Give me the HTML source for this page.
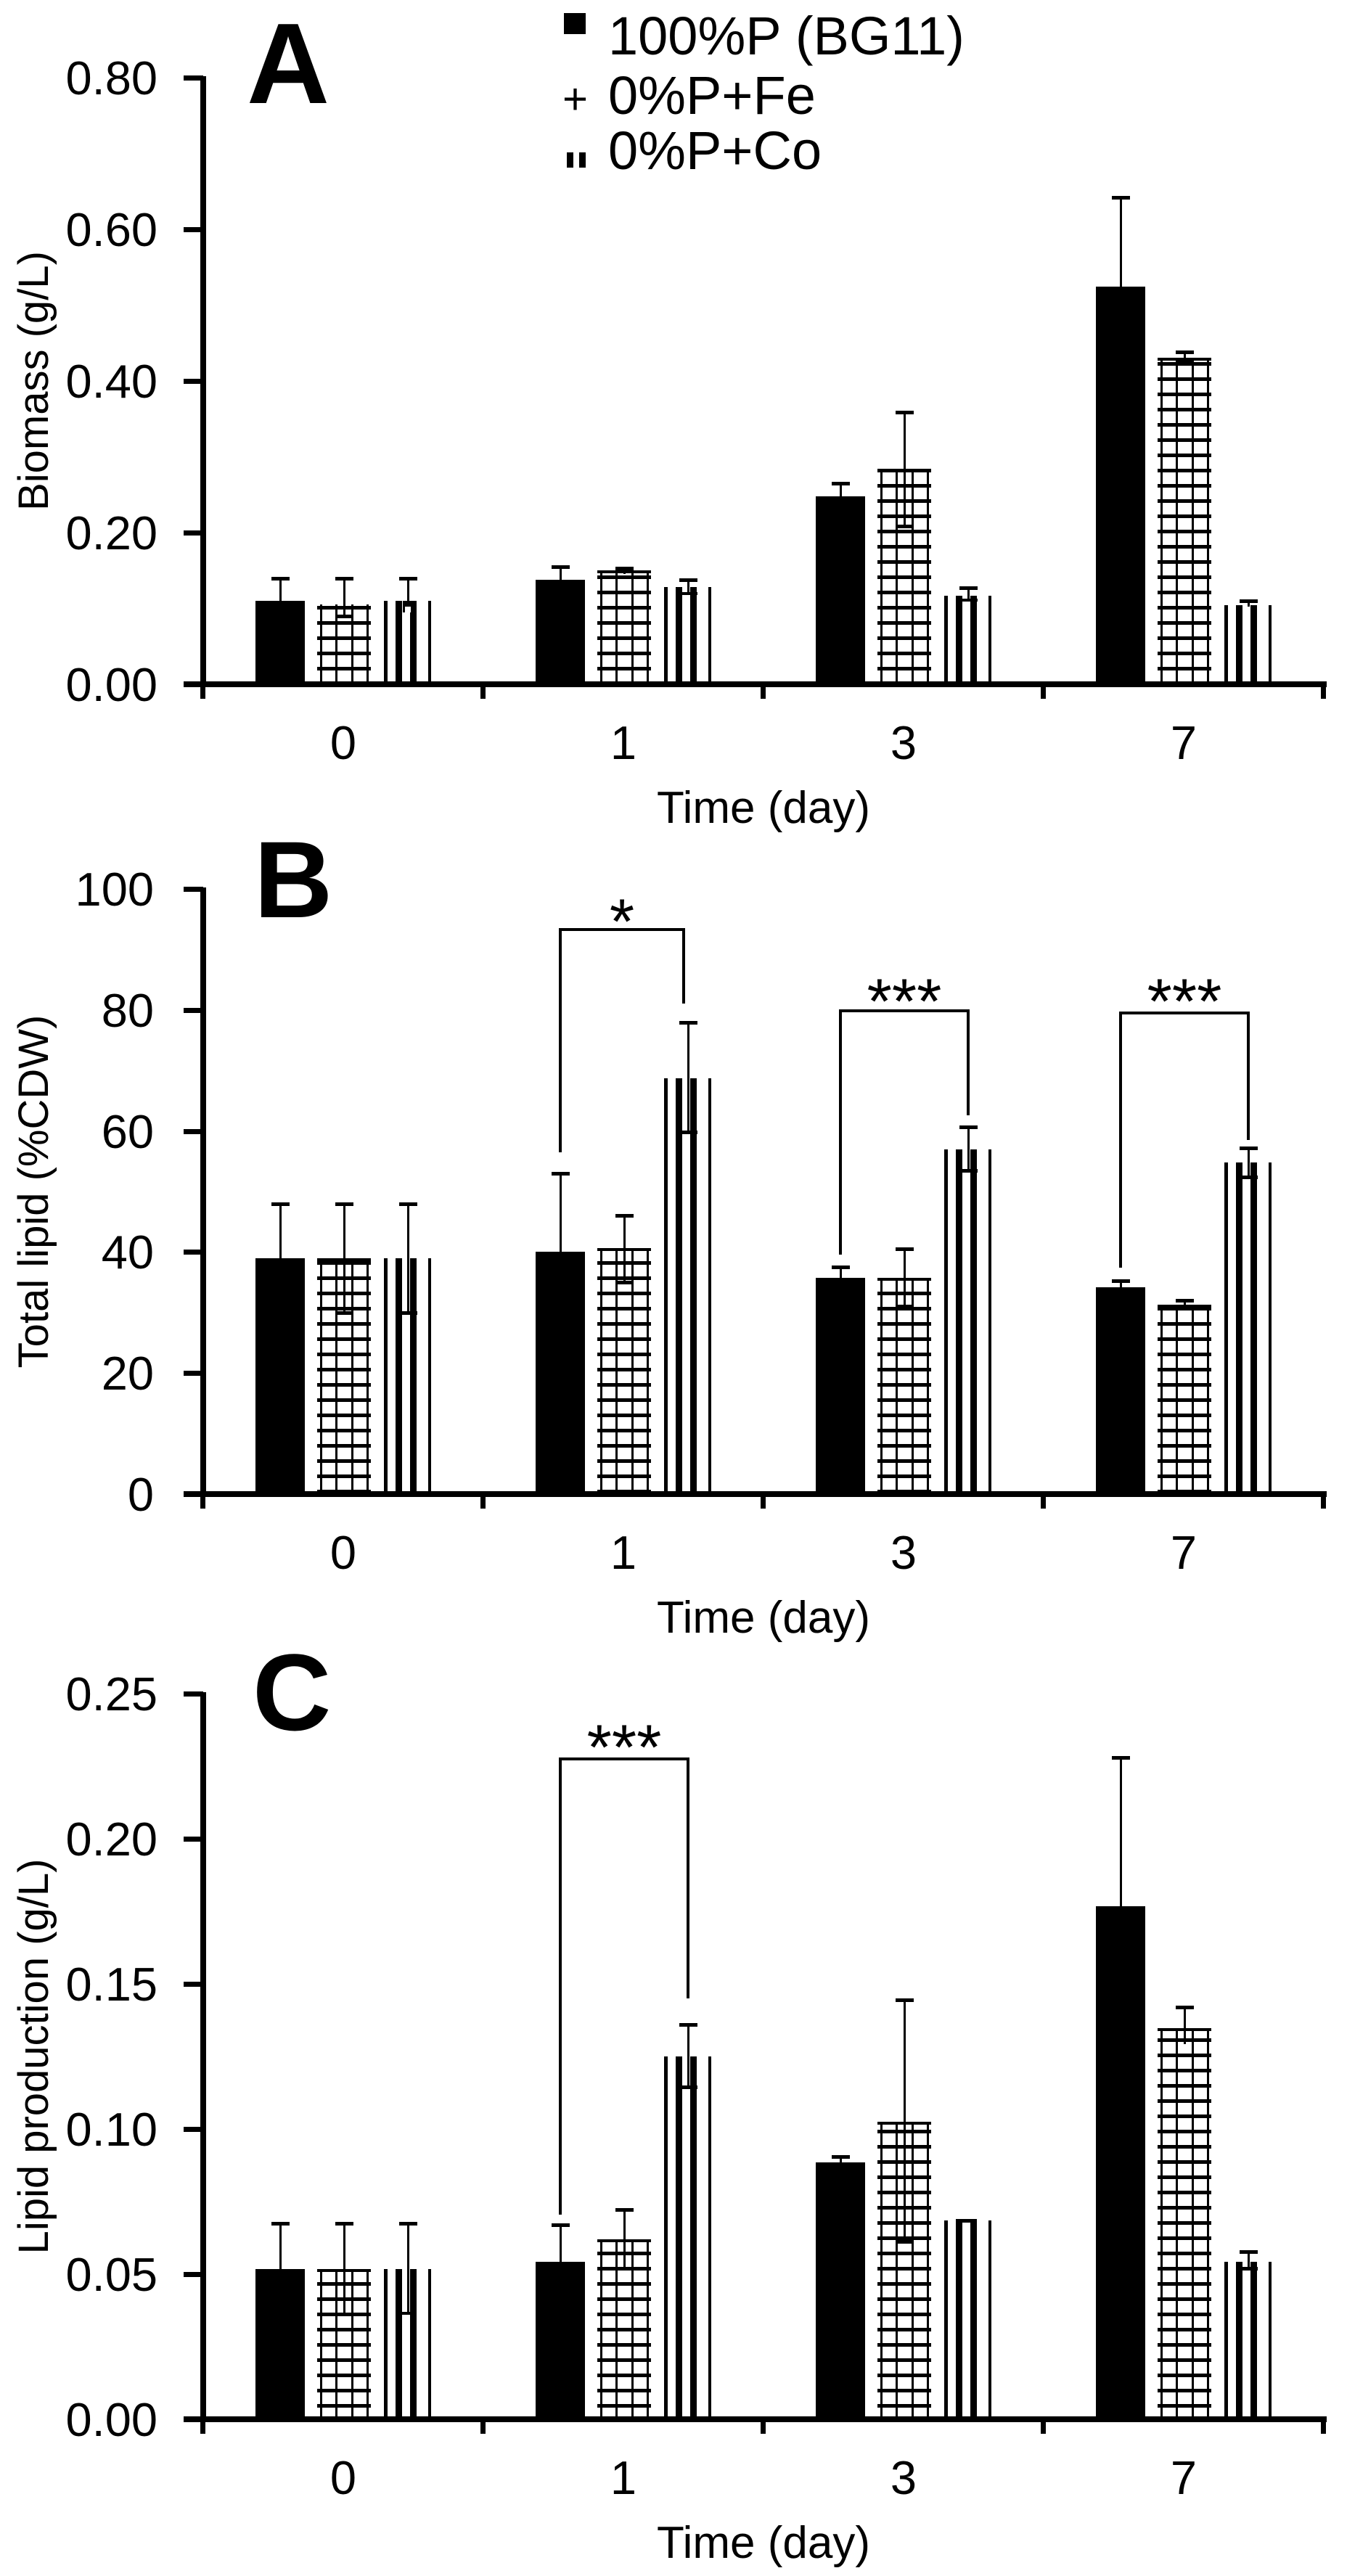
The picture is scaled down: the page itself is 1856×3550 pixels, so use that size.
<!DOCTYPE html>
<html><head><meta charset="utf-8"><style>
html,body{margin:0;padding:0;background:#fff;}
svg{display:block;}
text{font-family:"Liberation Sans",Arial,sans-serif;fill:#000;}
</style></head><body>
<svg width="1856" height="3550" viewBox="0 0 1856 3550" xmlns="http://www.w3.org/2000/svg">
<defs>
<pattern id="hp" patternUnits="userSpaceOnUse" x="0" y="0" width="4000" height="21"><rect x="0" y="16" width="4000" height="5" fill="#000"/></pattern>
</defs>
<rect width="1856" height="3550" fill="#fff"/>

<!-- ================= PANEL A ================= -->
<text x="340" y="142" font-size="158" font-weight="bold">A</text>
<rect x="777" y="18" width="30" height="29" fill="#000"/>
<text x="838" y="75" font-size="74">100%P (BG11)</text>
<text x="775" y="157" font-size="60">+</text>
<text x="838" y="157" font-size="74">0%P+Fe</text>
<rect x="781" y="210" width="9" height="21" fill="#000"/><rect x="798" y="210" width="9" height="21" fill="#000"/>
<text x="838" y="233" font-size="74">0%P+Co</text>

<!-- bars A -->
<g id="barsA">
<rect x="352" y="828" width="68" height="115" fill="#000"/>
<rect x="437" y="833" width="74" height="110" fill="url(#hp)"/>
<rect x="441" y="833" width="3" height="110"/><rect x="462" y="833" width="3" height="110"/><rect x="484" y="833" width="3" height="110"/><rect x="505" y="833" width="3" height="110"/>
<rect x="529" y="828" width="5" height="115"/><rect x="545" y="828" width="9" height="115"/><rect x="565" y="828" width="9" height="115"/><rect x="590" y="828" width="4" height="115"/>

<rect x="738" y="799" width="68" height="144"/>
<rect x="823" y="786" width="74" height="157" fill="url(#hp)"/><rect x="823" y="786" width="74" height="4"/>
<rect x="827" y="786" width="3" height="157"/><rect x="848" y="786" width="3" height="157"/><rect x="870" y="786" width="3" height="157"/><rect x="891" y="786" width="3" height="157"/>
<rect x="915" y="809" width="5" height="134"/><rect x="931" y="809" width="9" height="134"/><rect x="951" y="809" width="9" height="134"/><rect x="976" y="809" width="4" height="134"/>

<rect x="1124" y="684" width="68" height="259"/>
<rect x="1209" y="646" width="74" height="297" fill="url(#hp)"/><rect x="1209" y="646" width="74" height="4"/>
<rect x="1213" y="646" width="3" height="297"/><rect x="1234" y="646" width="3" height="297"/><rect x="1256" y="646" width="3" height="297"/><rect x="1277" y="646" width="3" height="297"/>
<rect x="1301" y="821" width="5" height="122"/><rect x="1317" y="821" width="9" height="122"/><rect x="1337" y="821" width="9" height="122"/><rect x="1362" y="821" width="4" height="122"/>

<rect x="1510" y="395" width="68" height="548"/>
<rect x="1595" y="493" width="74" height="450" fill="url(#hp)"/><rect x="1595" y="493" width="74" height="4"/>
<rect x="1599" y="493" width="3" height="450"/><rect x="1620" y="493" width="3" height="450"/><rect x="1642" y="493" width="3" height="450"/><rect x="1663" y="493" width="3" height="450"/>
<rect x="1687" y="834" width="5" height="109"/><rect x="1703" y="834" width="9" height="109"/><rect x="1723" y="834" width="9" height="109"/><rect x="1748" y="834" width="4" height="109"/>
</g>
<!-- error bars A -->
<g fill="#000">
<rect x="385" y="797" width="3" height="31"/><rect x="374" y="795" width="25" height="5"/>
<rect x="473" y="797" width="3" height="52"/><rect x="462" y="795" width="25" height="5"/><rect x="462" y="847" width="25" height="5"/>
<rect x="561" y="797" width="3" height="47"/><rect x="550" y="795" width="25" height="5"/><rect x="555" y="828" width="14" height="16" fill="#000"/><rect x="558" y="836" width="8" height="8" fill="#fff"/>
<rect x="771" y="781" width="3" height="18"/><rect x="760" y="779" width="25" height="5"/>
<rect x="859" y="783" width="3" height="8"/><rect x="848" y="781" width="25" height="5"/>
<rect x="947" y="799" width="3" height="19"/><rect x="936" y="797" width="25" height="5"/><rect x="936" y="816" width="25" height="4"/>
<rect x="1157" y="666" width="3" height="18"/><rect x="1146" y="664" width="25" height="5"/>
<rect x="1245" y="568" width="3" height="157"/><rect x="1234" y="566" width="25" height="5"/><rect x="1234" y="723" width="25" height="5"/>
<rect x="1333" y="810" width="3" height="17"/><rect x="1322" y="808" width="25" height="5"/><rect x="1322" y="825" width="25" height="4"/>
<rect x="1543" y="272" width="3" height="123"/><rect x="1532" y="270" width="25" height="5"/>
<rect x="1631" y="485" width="3" height="13"/><rect x="1620" y="483" width="25" height="5"/><rect x="1620" y="496" width="25" height="4"/>
<rect x="1719" y="828" width="3" height="8"/><rect x="1708" y="826" width="25" height="5"/>
</g>
<!-- axes A -->
<rect x="276" y="105" width="8" height="842"/>
<rect x="253" y="939" width="1575" height="8"/>
<rect x="253" y="104" width="27" height="7"/><rect x="253" y="313" width="27" height="7"/><rect x="253" y="522" width="27" height="7"/><rect x="253" y="731" width="27" height="7"/>
<rect x="276" y="943" width="7" height="20"/><rect x="662" y="943" width="7" height="20"/><rect x="1048" y="943" width="7" height="20"/><rect x="1434" y="943" width="7" height="20"/><rect x="1820" y="943" width="7" height="20"/>
<g font-size="65" text-anchor="end">
<text x="217" y="130">0.80</text><text x="217" y="339">0.60</text><text x="217" y="548">0.40</text><text x="217" y="757">0.20</text><text x="217" y="966">0.00</text>
</g>
<g font-size="65" text-anchor="middle">
<text x="473" y="1046">0</text><text x="859" y="1046">1</text><text x="1245" y="1046">3</text><text x="1631" y="1046">7</text>
<text x="1052" y="1134" font-size="62">Time (day)</text>
</g>
<text transform="translate(66,525) rotate(-90)" font-size="58" text-anchor="middle">Biomass (g/L)</text>

<!-- ================= PANEL B ================= -->
<text x="350" y="1264" font-size="150" font-weight="bold">B</text>
<g>
<rect x="352" y="1734" width="68" height="325"/>
<rect x="437" y="1734" width="74" height="325" fill="url(#hp)"/><rect x="437" y="1734" width="74" height="4"/>
<rect x="441" y="1734" width="3" height="325"/><rect x="462" y="1734" width="3" height="325"/><rect x="484" y="1734" width="3" height="325"/><rect x="505" y="1734" width="3" height="325"/>
<rect x="529" y="1734" width="5" height="325"/><rect x="545" y="1734" width="9" height="325"/><rect x="565" y="1734" width="9" height="325"/><rect x="590" y="1734" width="4" height="325"/>

<rect x="738" y="1725" width="68" height="334"/>
<rect x="823" y="1720" width="74" height="339" fill="url(#hp)"/><rect x="823" y="1720" width="74" height="4"/>
<rect x="827" y="1720" width="3" height="339"/><rect x="848" y="1720" width="3" height="339"/><rect x="870" y="1720" width="3" height="339"/><rect x="891" y="1720" width="3" height="339"/>
<rect x="915" y="1486" width="5" height="573"/><rect x="931" y="1486" width="9" height="573"/><rect x="951" y="1486" width="9" height="573"/><rect x="976" y="1486" width="4" height="573"/>

<rect x="1124" y="1761" width="68" height="298"/>
<rect x="1209" y="1761" width="74" height="298" fill="url(#hp)"/><rect x="1209" y="1761" width="74" height="4"/>
<rect x="1213" y="1761" width="3" height="298"/><rect x="1234" y="1761" width="3" height="298"/><rect x="1256" y="1761" width="3" height="298"/><rect x="1277" y="1761" width="3" height="298"/>
<rect x="1301" y="1584" width="5" height="475"/><rect x="1317" y="1584" width="9" height="475"/><rect x="1337" y="1584" width="9" height="475"/><rect x="1362" y="1584" width="4" height="475"/>

<rect x="1510" y="1774" width="68" height="285"/>
<rect x="1595" y="1798" width="74" height="261" fill="url(#hp)"/><rect x="1595" y="1798" width="74" height="4"/>
<rect x="1599" y="1798" width="3" height="261"/><rect x="1620" y="1798" width="3" height="261"/><rect x="1642" y="1798" width="3" height="261"/><rect x="1663" y="1798" width="3" height="261"/>
<rect x="1687" y="1602" width="5" height="457"/><rect x="1703" y="1602" width="9" height="457"/><rect x="1723" y="1602" width="9" height="457"/><rect x="1748" y="1602" width="4" height="457"/>
</g>
<g>
<rect x="385" y="1659" width="3" height="75"/><rect x="374" y="1657" width="25" height="5"/>
<rect x="473" y="1659" width="3" height="150"/><rect x="462" y="1657" width="25" height="5"/><rect x="462" y="1807" width="25" height="5"/>
<rect x="561" y="1659" width="3" height="150"/><rect x="550" y="1657" width="25" height="5"/><rect x="550" y="1807" width="25" height="5"/>
<rect x="771" y="1617" width="3" height="108"/><rect x="760" y="1615" width="25" height="5"/>
<rect x="859" y="1675" width="3" height="92"/><rect x="848" y="1673" width="25" height="5"/><rect x="848" y="1765" width="25" height="5"/>
<rect x="947" y="1409" width="3" height="151"/><rect x="936" y="1407" width="25" height="5"/><rect x="936" y="1558" width="25" height="5"/>
<rect x="1157" y="1746" width="3" height="15"/><rect x="1146" y="1744" width="25" height="5"/>
<rect x="1245" y="1721" width="3" height="79"/><rect x="1234" y="1719" width="25" height="5"/><rect x="1234" y="1798" width="25" height="5"/>
<rect x="1333" y="1553" width="3" height="60"/><rect x="1322" y="1551" width="25" height="5"/><rect x="1322" y="1611" width="25" height="5"/>
<rect x="1543" y="1765" width="3" height="9"/><rect x="1532" y="1763" width="25" height="5"/>
<rect x="1631" y="1792" width="3" height="8"/><rect x="1620" y="1790" width="25" height="5"/>
<rect x="1719" y="1582" width="3" height="40"/><rect x="1708" y="1580" width="25" height="5"/><rect x="1708" y="1620" width="25" height="5"/>
</g>
<!-- brackets B -->
<g fill="none" stroke="#000" stroke-width="4">
<polyline points="772,1588 772,1281 942,1281 942,1383"/>
<polyline points="1158,1729 1158,1393 1334,1393 1334,1537"/>
<polyline points="1544,1747 1544,1396 1720,1396 1720,1571"/>
</g>
<g font-size="88" text-anchor="middle">
<text x="857" y="1300">*</text>
<text x="1246" y="1410">***</text>
<text x="1632" y="1410">***</text>
</g>
<!-- axes B -->
<rect x="276" y="1223" width="8" height="840"/>
<rect x="253" y="2055" width="1575" height="8"/>
<rect x="253" y="1222" width="27" height="7"/><rect x="253" y="1389" width="27" height="7"/><rect x="253" y="1556" width="27" height="7"/><rect x="253" y="1722" width="27" height="7"/><rect x="253" y="1889" width="27" height="7"/>
<rect x="276" y="2059" width="7" height="20"/><rect x="662" y="2059" width="7" height="20"/><rect x="1048" y="2059" width="7" height="20"/><rect x="1434" y="2059" width="7" height="20"/><rect x="1820" y="2059" width="7" height="20"/>
<g font-size="65" text-anchor="end">
<text x="212" y="1248">100</text><text x="212" y="1415">80</text><text x="212" y="1582">60</text><text x="212" y="1748">40</text><text x="212" y="1915">20</text><text x="212" y="2082">0</text>
</g>
<g font-size="65" text-anchor="middle">
<text x="473" y="2162">0</text><text x="859" y="2162">1</text><text x="1245" y="2162">3</text><text x="1631" y="2162">7</text>
<text x="1052" y="2250" font-size="62">Time (day)</text>
</g>
<text transform="translate(66,1642) rotate(-90)" font-size="58" text-anchor="middle">Total lipid (%CDW)</text>

<!-- ================= PANEL C ================= -->
<text x="348" y="2384" font-size="150" font-weight="bold">C</text>
<g>
<rect x="352" y="3127" width="68" height="207"/>
<rect x="437" y="3127" width="74" height="207" fill="url(#hp)"/><rect x="437" y="3127" width="74" height="4"/>
<rect x="441" y="3127" width="3" height="207"/><rect x="462" y="3127" width="3" height="207"/><rect x="484" y="3127" width="3" height="207"/><rect x="505" y="3127" width="3" height="207"/>
<rect x="529" y="3127" width="5" height="207"/><rect x="545" y="3127" width="9" height="207"/><rect x="565" y="3127" width="9" height="207"/><rect x="590" y="3127" width="4" height="207"/>

<rect x="738" y="3117" width="68" height="217"/>
<rect x="823" y="3086" width="74" height="248" fill="url(#hp)"/><rect x="823" y="3086" width="74" height="4"/>
<rect x="827" y="3086" width="3" height="248"/><rect x="848" y="3086" width="3" height="248"/><rect x="870" y="3086" width="3" height="248"/><rect x="891" y="3086" width="3" height="248"/>
<rect x="915" y="2834" width="5" height="500"/><rect x="931" y="2834" width="9" height="500"/><rect x="951" y="2834" width="9" height="500"/><rect x="976" y="2834" width="4" height="500"/>

<rect x="1124" y="2980" width="68" height="354"/>
<rect x="1209" y="2924" width="74" height="410" fill="url(#hp)"/><rect x="1209" y="2924" width="74" height="4"/>
<rect x="1213" y="2924" width="3" height="410"/><rect x="1234" y="2924" width="3" height="410"/><rect x="1256" y="2924" width="3" height="410"/><rect x="1277" y="2924" width="3" height="410"/>
<rect x="1301" y="3060" width="5" height="274"/><rect x="1317" y="3060" width="9" height="274"/><rect x="1337" y="3060" width="9" height="274"/><rect x="1362" y="3060" width="4" height="274"/><rect x="1317" y="3058" width="29" height="5"/>

<rect x="1510" y="2627" width="68" height="707"/>
<rect x="1595" y="2795" width="74" height="539" fill="url(#hp)"/><rect x="1595" y="2795" width="74" height="4"/>
<rect x="1599" y="2795" width="3" height="539"/><rect x="1620" y="2795" width="3" height="539"/><rect x="1642" y="2795" width="3" height="539"/><rect x="1663" y="2795" width="3" height="539"/>
<rect x="1687" y="3117" width="5" height="217"/><rect x="1703" y="3117" width="9" height="217"/><rect x="1723" y="3117" width="9" height="217"/><rect x="1748" y="3117" width="4" height="217"/>
</g>
<g>
<rect x="385" y="3064" width="3" height="63"/><rect x="374" y="3062" width="25" height="5"/>
<rect x="473" y="3064" width="3" height="124"/><rect x="462" y="3062" width="25" height="5"/>
<rect x="561" y="3064" width="3" height="124"/><rect x="550" y="3062" width="25" height="5"/><rect x="552" y="3186" width="20" height="4"/>
<rect x="771" y="3066" width="3" height="51"/><rect x="760" y="3064" width="25" height="5"/>
<rect x="859" y="3045" width="3" height="81"/><rect x="848" y="3043" width="25" height="5"/><rect x="848" y="3124" width="25" height="5"/>
<rect x="947" y="2790" width="3" height="86"/><rect x="936" y="2788" width="25" height="5"/><rect x="936" y="2874" width="25" height="5"/>
<rect x="1157" y="2972" width="3" height="8"/><rect x="1146" y="2970" width="25" height="5"/>
<rect x="1245" y="2756" width="3" height="333"/><rect x="1234" y="2754" width="25" height="5"/><rect x="1234" y="3087" width="25" height="5"/>
<rect x="1543" y="2422" width="3" height="205"/><rect x="1532" y="2420" width="25" height="5"/>
<rect x="1631" y="2766" width="3" height="51"/><rect x="1620" y="2764" width="25" height="5"/>
<rect x="1719" y="3103" width="3" height="23"/><rect x="1708" y="3101" width="25" height="5"/><rect x="1708" y="3124" width="25" height="5"/>
</g>
<g fill="none" stroke="#000" stroke-width="4">
<polyline points="772,3052 772,2424 948,2424 948,2754"/>
</g>
<text x="860" y="2438" font-size="88" text-anchor="middle">***</text>
<!-- axes C -->
<rect x="276" y="2332" width="8" height="1006"/>
<rect x="253" y="3330" width="1575" height="8"/>
<rect x="253" y="2331" width="27" height="7"/><rect x="253" y="2531" width="27" height="7"/><rect x="253" y="2731" width="27" height="7"/><rect x="253" y="2931" width="27" height="7"/><rect x="253" y="3131" width="27" height="7"/>
<rect x="276" y="3334" width="7" height="20"/><rect x="662" y="3334" width="7" height="20"/><rect x="1048" y="3334" width="7" height="20"/><rect x="1434" y="3334" width="7" height="20"/><rect x="1820" y="3334" width="7" height="20"/>
<g font-size="65" text-anchor="end">
<text x="217" y="2357">0.25</text><text x="217" y="2557">0.20</text><text x="217" y="2757">0.15</text><text x="217" y="2957">0.10</text><text x="217" y="3157">0.05</text><text x="217" y="3357">0.00</text>
</g>
<g font-size="65" text-anchor="middle">
<text x="473" y="3437">0</text><text x="859" y="3437">1</text><text x="1245" y="3437">3</text><text x="1631" y="3437">7</text>
<text x="1052" y="3525" font-size="62">Time (day)</text>
</g>
<text transform="translate(66,2834) rotate(-90)" font-size="58" text-anchor="middle">Lipid production (g/L)</text>
</svg>
</body></html>
